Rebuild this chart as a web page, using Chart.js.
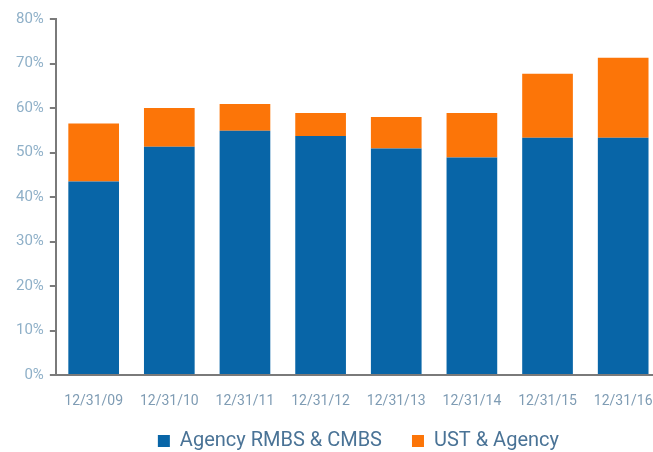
<!DOCTYPE html>
<html>
<head>
<meta charset="utf-8">
<script src="https://cdn.jsdelivr.net/npm/chart.js@4"></script>
<style>
  html, body { margin: 0; padding: 0; background: #fff; overflow: hidden; }
  #chart { display: block; }
</style>
</head>
<body>
<canvas id="chart" width="670" height="469"></canvas>
<script>
// data (percent of portfolio)
const categories = ['12/31/09', '12/31/10', '12/31/11', '12/31/12', '12/31/13', '12/31/14', '12/31/15', '12/31/16'];
const agencyRmbs = [43.5, 51.3, 54.9, 53.7, 50.9, 48.9, 53.3, 53.3];
const ustAgency = [13.0, 8.7, 6.0, 5.2, 7.1, 10.0, 14.4, 18.0];
const yTicks = [0, 10, 20, 30, 40, 50, 60, 70, 80];

const axisGray = '#7a7a7a';

// legend padding is also used between the items, so pull the row up a bit afterwards
const legendNudge = {
  id: 'legendNudge',
  afterLayout(chart) {
    chart.legend.top -= 8;
    chart.legend.bottom -= 8;
  }
};

const ctx = document.getElementById('chart').getContext('2d');
const chart = new Chart(ctx, {
  type: 'bar',
  data: {
    labels: categories,
    datasets: [
      { label: 'Agency RMBS & CMBS', data: agencyRmbs, backgroundColor: '#0865a7' },
      { label: 'UST & Agency', data: ustAgency, backgroundColor: '#fc7508' }
    ]
  },
  options: {
    responsive: false,
    animation: false,
    layout: { padding: { top: 19, left: 10, right: 9, bottom: 0 } },
    datasets: { bar: { barPercentage: 0.67, categoryPercentage: 1 } },
    scales: {
      x: {
        stacked: true,
        grid: { display: false },
        border: { color: axisGray, width: 2 },
        ticks: { color: '#7f9cb4', font: { family: 'Roboto', size: 14 }, padding: 10, maxRotation: 0 },
        afterFit: (scale) => { scale.height = 34; }
      },
      y: {
        stacked: true,
        min: 0,
        max: 80,
        afterBuildTicks: (axis) => { axis.ticks = yTicks.map(v => ({ value: v })); },
        grid: { drawOnChartArea: false, drawTicks: true, tickLength: 6, color: axisGray, lineWidth: 2 },
        border: { color: axisGray, width: 2 },
        ticks: { color: '#8fb0c8', font: { family: 'Roboto', size: 15 }, padding: 6, callback: v => v + '%' }
      }
    },
    plugins: {
      tooltip: { enabled: false },
      legend: {
        position: 'bottom',
        fullSize: false,
        labels: {
          color: '#4a7396',
          font: { family: 'Roboto', size: 20 },
          boxWidth: 12,
          boxHeight: 12,
          padding: 30
        }
      }
    }
  },
  plugins: [legendNudge]
});
</script>
</body>
</html>
